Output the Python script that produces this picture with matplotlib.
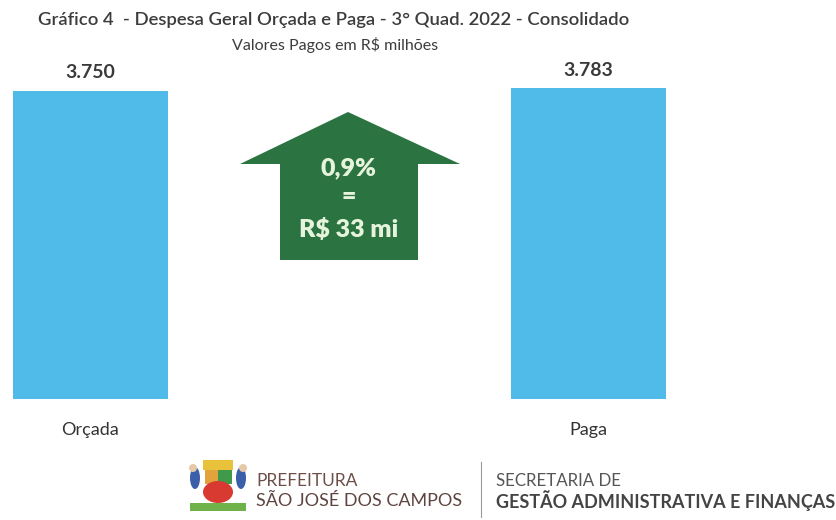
import matplotlib
matplotlib.use("Agg")
import matplotlib.pyplot as plt
from matplotlib.patches import Polygon, Rectangle, Ellipse
from matplotlib.lines import Line2D

categories = ["Orçada", "Paga"]
values = [3750, 3783]
value_labels = ["3.750", "3.783"]
title = "Gráfico 4  - Despesa Geral Orçada e Paga - 3° Quad. 2022 - Consolidado"
subtitle = "Valores Pagos em R$ milhões"
arrow_text = ["0,9%", "=", "R$ 33 mi"]

W, H = 837, 520
plt.rcParams['font.family'] = ['Lato', 'DejaVu Sans']
fig = plt.figure(figsize=(W / 100, H / 100), dpi=100)
fig.patch.set_facecolor("white")

def fx(x):
    return x / W

def fy(y):
    return 1 - y / H

# bar axes
base_y, top_y = 399, 40
ax = fig.add_axes([0, fy(base_y), 1, (base_y - top_y) / H])
ax.set_xlim(-90.5 / 498, (W - 90.5) / 498)
ax.set_ylim(0, 3750 * (base_y - top_y) / 308)
ax.axis("off")
xs = list(range(len(categories)))
ax.bar(xs, values, width=0.311, color="#50bbe8")
for x, v, lab, cat in zip(xs, values, value_labels, categories):
    ax.annotate(lab, xy=(x, v), xytext=(0, 18 * 0.72), textcoords="offset points",
                ha="center", va="center", fontsize=14, fontweight="bold", color="#3a3a3a")
    ax.annotate(cat, xy=(x, 0), xytext=(0, -31 * 0.72), textcoords="offset points",
                ha="center", va="center", fontsize=13, color="#333333")

# titles
fig.text(fx(334), fy(20), title, ha="center", va="center", fontsize=13.3,
         fontweight="semibold", color="#3c3c3c")
fig.text(fx(335), fy(45), subtitle, ha="center", va="center", fontsize=11.5,
         color="#3c3c3c")

# arrow
pts = [(348, 112), (460, 164), (418, 164), (418, 260), (280, 260), (280, 164), (240, 164)]
fig.patches.append(Polygon([(fx(a), fy(b)) for a, b in pts], closed=True,
                           transform=fig.transFigure, facecolor="#2b7340", edgecolor="none"))
for t, yy in zip(arrow_text, [168, 197, 230]):
    fig.text(fx(349), fy(yy), t, ha="center", va="center", fontsize=18,
             fontweight="heavy", color="#e6f4dc")

# footer logo (simplified)
def rect(x0, y0, w, h, c):
    fig.patches.append(Rectangle((fx(x0), fy(y0 + h)), w / W, h / H,
                                 transform=fig.transFigure, facecolor=c, edgecolor="none"))

def ell(cx, cy, w, h, c):
    fig.patches.append(Ellipse((fx(cx), fy(cy)), w / W, h / H,
                               transform=fig.transFigure, facecolor=c, edgecolor="none"))

rect(203, 460, 30, 10, "#e8c23a")
rect(205, 470, 13, 14, "#e2a23c")
rect(218, 470, 14, 14, "#3f9a4a")
ell(218, 492, 30, 22, "#d83a32")
ell(195, 478, 10, 22, "#3b5fa8")
ell(241, 478, 10, 22, "#3b5fa8")
ell(193, 468, 8, 8, "#e6c9a8")
ell(243, 468, 8, 8, "#e6c9a8")
rect(190, 503, 56, 8, "#6fb24a")

fig.text(fx(256), fy(481), "PREFEITURA", ha="left", va="center", fontsize=12.5,
         color="#6e4e48")
fig.text(fx(256), fy(501), "SÃO JOSÉ DOS CAMPOS", ha="left", va="center", fontsize=13,
         color="#5e4440")
fig.lines.append(Line2D([fx(481), fx(481)], [fy(462), fy(517)], transform=fig.transFigure,
                        color="#9a9a9a", lw=0.8))
fig.text(fx(496), fy(481), "SECRETARIA DE", ha="left", va="center", fontsize=12.2,
         color="#555555")
fig.text(fx(496), fy(501), "GESTÃO ADMINISTRATIVA E FINANÇAS", ha="left", va="center",
         fontsize=13, fontweight="bold", color="#444444")

fig.savefig("out.png", dpi=100, facecolor="white")
